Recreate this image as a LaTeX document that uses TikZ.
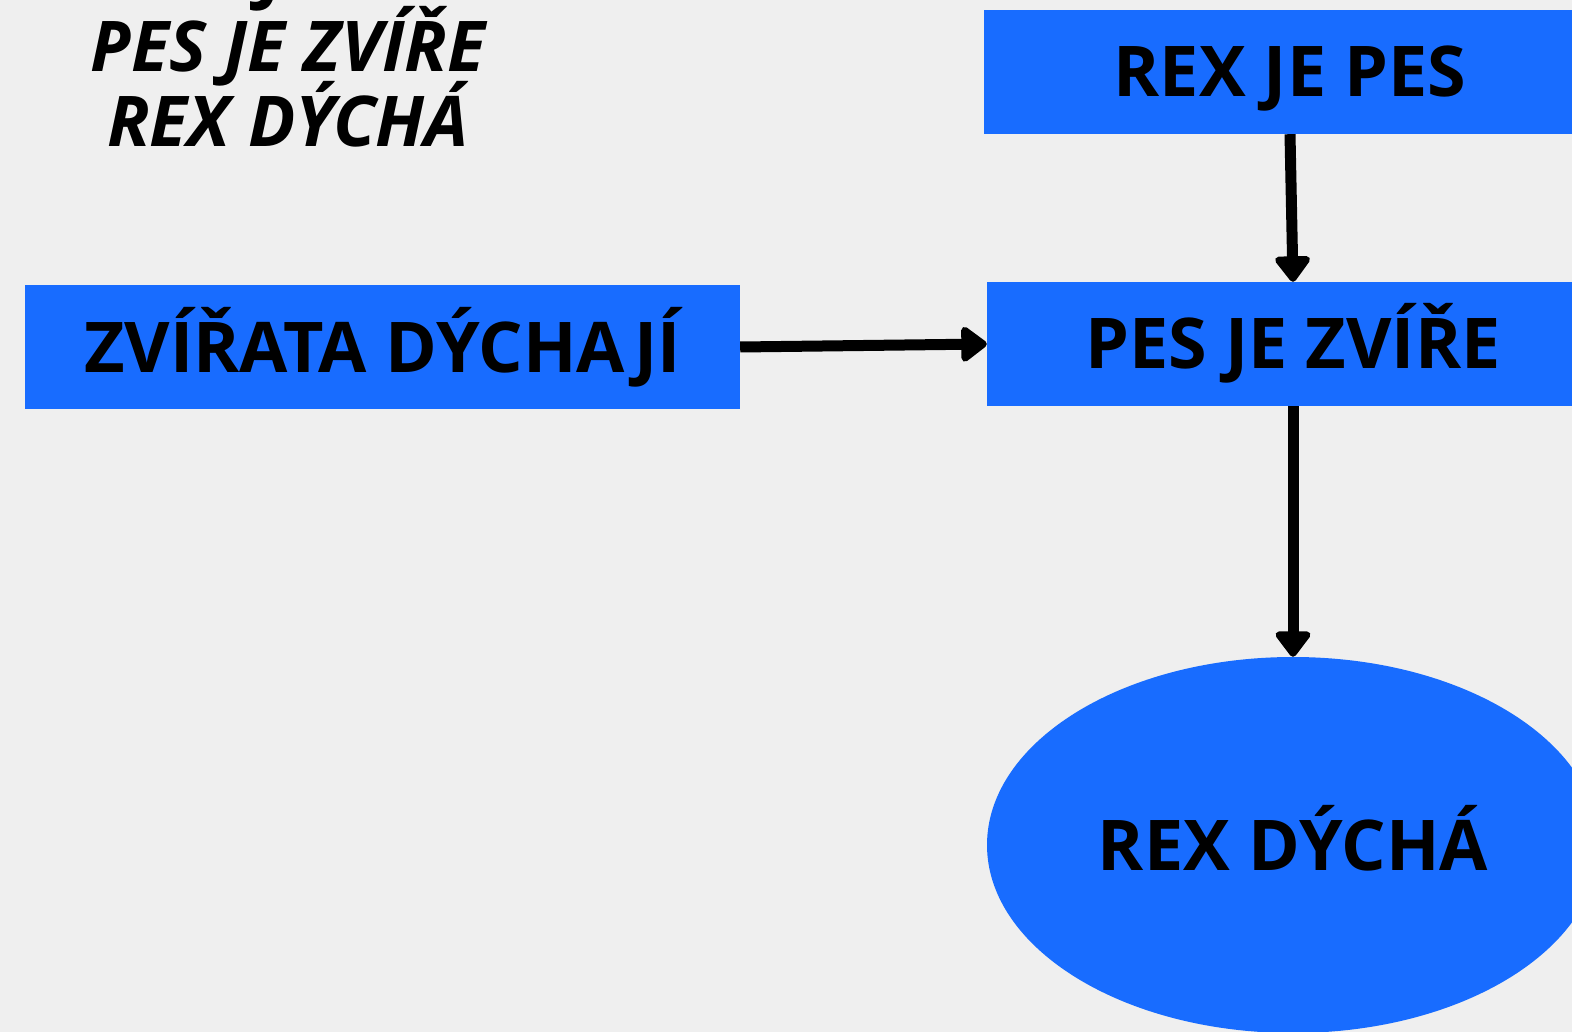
\documentclass[tikz,border=0pt]{standalone}
\usepackage{fontspec}
\setmainfont{Open Sans}
\usetikzlibrary{arrows.meta,shapes.geometric}
\definecolor{bg}{RGB}{239,239,239}
\definecolor{boxblue}{RGB}{24,108,255}
\tikzset{
  x=1pt,y=-1pt,
  bigfont/.style={font=\fontsize{70}{84}\selectfont\bfseries},
  itfont/.style={font=\fontsize{70}{84}\selectfont\bfseries\itshape},
  stmt/.style={rectangle,fill=boxblue,draw=none,inner sep=0pt,minimum height=124pt,
    text height=50pt,text depth=0pt,bigfont},
  concl/.style={ellipse,fill=boxblue,draw=none,inner sep=0pt,bigfont},
  link/.style={line width=11pt,-{Triangle[round,length=28pt,width=40pt]}},
}
\begin{document}
\begin{tikzpicture}
\useasboundingbox (0,0) rectangle (1572,1032);
\fill[bg] (0,0) rectangle (1572,1032);
\clip (0,0) rectangle (1572,1032);

% premises written as a short list, top left
\node[itfont,anchor=base] (l0) at (288,-3) {REX JE PES};
\node[itfont,anchor=base] (l1) at (288,72) {PES JE ZVÍŘE};
\node[itfont,anchor=base] (l2) at (288,147) {REX DÝCHÁ};

% statement boxes
\node[stmt,minimum width=612pt] (rex) at (1290,72) {REX JE PES};
\node[stmt,minimum width=612pt] (pes) at (1293,344) {PES JE ZVÍŘE};
\node[stmt,minimum width=715pt] (zvi) at (382.5,347) {ZVÍŘATA DÝCHAJÍ};
\node[concl,minimum width=612pt,minimum height=376pt,text height=50pt,text depth=0pt] (dych) at (1293,845) {REX DÝCHÁ};

% inference arrows
\draw[link] (rex.south) -- (pes.north);
\draw[link] (zvi.east) -- (pes.west);
\draw[link] (pes.south) -- (dych.north);
\end{tikzpicture}
\end{document}
